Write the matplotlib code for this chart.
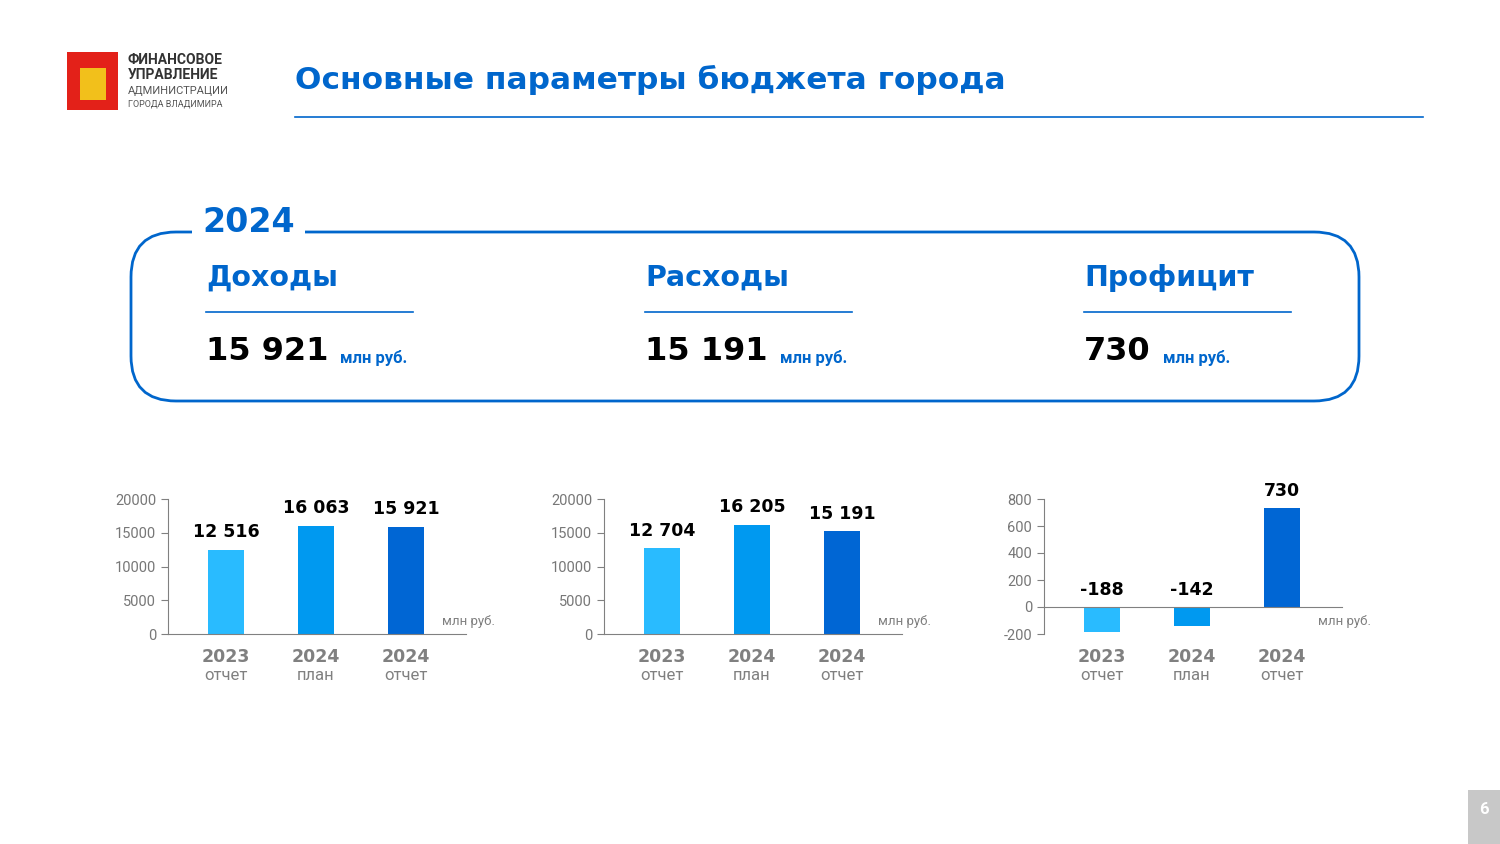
import matplotlib
matplotlib.use("Agg")
import matplotlib.pyplot as plt
from matplotlib.patches import FancyBboxPatch, Rectangle

plt.rcParams["axes.unicode_minus"] = False

categories_year = ["2023", "2024", "2024"]
categories_sub = ["отчет", "план", "отчет"]
income = [12516, 16063, 15921]
expense = [12704, 16205, 15191]
surplus = [-188, -142, 730]
income_labels = ["12 516", "16 063", "15 921"]
expense_labels = ["12 704", "16 205", "15 191"]
surplus_labels = ["-188", "-142", "730"]
bar_colors = ["#29BBFF", "#0099F0", "#0066D4"]

BLUE = "#0066CC"
GRAY = "#808080"
FONT = "Roboto"
HFONT = "DejaVu Sans"
W, H = 1500, 844

fig = plt.figure(figsize=(15, 8.44), dpi=100)
fig.patch.set_facecolor("white")

def P(x, y):
    return x / W, 1 - y / H

def txt(x, y, s, **kw):
    kw.setdefault("family", FONT)
    return fig.text(*P(x, y), s, **kw)

# Logo
fig.patches.append(Rectangle(P(67, 110), 51 / W, 58 / H, transform=fig.transFigure,
                             facecolor="#E32119", edgecolor="none"))
fig.patches.append(Rectangle(P(80, 100), 26 / W, 32 / H, transform=fig.transFigure,
                             facecolor="#F4D31C", edgecolor="none", alpha=0.9))
txt(128, 60, "ФИНАНСОВОЕ", fontsize=10, weight="bold", color="#333333", va="center")
txt(128, 75, "УПРАВЛЕНИЕ", fontsize=10, weight="bold", color="#333333", va="center")
txt(128, 91, "АДМИНИСТРАЦИИ", fontsize=8, color="#555555", va="center")
txt(128, 104, "ГОРОДА ВЛАДИМИРА", fontsize=6.5, color="#555555", va="center")

# Title
txt(295, 80, "Основные параметры бюджета города", fontsize=22.5, weight="bold", color=BLUE,
    va="center", family=HFONT)
fig.add_artist(plt.Line2D([295 / W, 1423 / W], [1 - 117 / H] * 2, color=BLUE, lw=1.2))

# Rounded box
box = FancyBboxPatch(P(131, 401), (1359 - 131) / W, (401 - 232) / H, transform=fig.transFigure,
                     boxstyle="round,pad=0,rounding_size=0.03", facecolor="none",
                     edgecolor=BLUE, lw=2, mutation_aspect=W / H)
fig.patches.append(box)
fig.patches.append(Rectangle(P(192, 240), 113 / W, 16 / H, transform=fig.transFigure,
                             facecolor="white", edgecolor="none", zorder=3))
txt(249, 222, "2024", fontsize=24, weight="bold", color=BLUE, ha="center", va="center",
    zorder=4, family=HFONT)

for x0, head, val in [(206, "Доходы", "15 921"), (645, "Расходы", "15 191"), (1084, "Профицит", "730")]:
    txt(x0, 278, head, fontsize=20.5, weight="bold", color=BLUE, va="center", family=HFONT)
    fig.add_artist(plt.Line2D([x0 / W, (x0 + 207) / W], [1 - 312 / H] * 2, color=BLUE, lw=1.2))
    t = txt(x0, 352, val, fontsize=23, weight="bold", color="black", va="center", family=HFONT)
    fig.canvas.draw()
    bb = t.get_window_extent()
    txt(bb.x1 + 12, 358, "млн руб.", fontsize=12, weight="bold", color=BLUE, va="center")

# Charts
def chart(left, values, labels, ylim, yticks):
    ax = fig.add_axes([left / W, 1 - 634 / H, 298 / W, 135 / H])
    xs = range(len(values))
    ax.bar(xs, values, width=0.4, color=bar_colors, zorder=2)
    ax.set_xlim(-0.644, 2.667)
    ax.set_ylim(*ylim)
    ax.set_yticks(yticks)
    ax.set_xticks([])
    for s in ["top", "right"]:
        ax.spines[s].set_visible(False)
    ax.spines["left"].set_color(GRAY)
    ax.spines["bottom"].set_color(GRAY)
    ax.spines["bottom"].set_position(("data", 0))
    ax.tick_params(axis="y", colors=GRAY, labelsize=10.5, length=5, labelcolor="#777777")
    for lab in ax.get_yticklabels():
        lab.set_family(FONT)
    ax.patch.set_alpha(0)
    for x, v, l in zip(xs, values, labels):
        y = max(v, 0)
        ax.annotate(l, (x, y), xytext=(0, 6), textcoords="offset points", ha="center",
                    va="bottom", fontsize=12.5, weight="bold", family=HFONT, color="black")
    ax.text(274 / 298, 13 / 135, "млн руб.", transform=ax.transAxes,
            fontsize=9.5, color=GRAY, ha="left", va="center", family=FONT, clip_on=False)
    for x, yr, sub in zip(xs, categories_year, categories_sub):
        ax.text(x, -0.10, yr, transform=ax.get_xaxis_transform(), ha="center", va="top",
                fontsize=12.5, weight="bold", color=GRAY, family=HFONT)
        ax.text(x, -0.25, sub, transform=ax.get_xaxis_transform(), ha="center", va="top",
                fontsize=12, color=GRAY, family=FONT)
    return ax

chart(168, income, income_labels, (0, 20000), [0, 5000, 10000, 15000, 20000])
chart(604, expense, expense_labels, (0, 20000), [0, 5000, 10000, 15000, 20000])
chart(1044, surplus, surplus_labels, (-200, 800), [-200, 0, 200, 400, 600, 800])

# Page number
fig.patches.append(Rectangle(P(1468, 844), 32 / W, 54 / H, transform=fig.transFigure,
                             facecolor="#C8C8C8", edgecolor="none"))
txt(1484, 809, "6", fontsize=12, weight="bold", color="white", ha="center", va="center")

fig.savefig("out.png", dpi=100)
